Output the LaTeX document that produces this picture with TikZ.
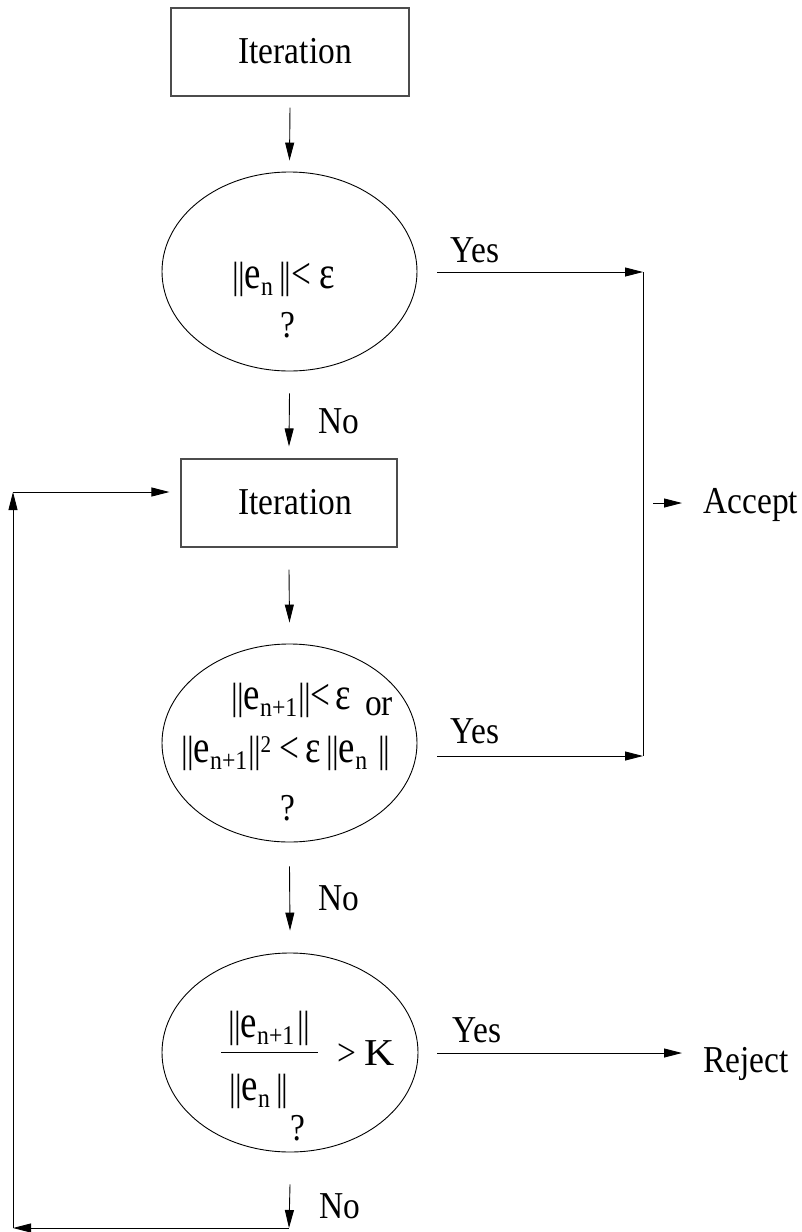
\documentclass[tikz,border=0pt]{standalone}
\usepackage{fontspec}
\setmainfont{Liberation Serif}[FakeStretch=0.88]
\newfontfamily\bigf{Liberation Serif}[FakeStretch=0.8]
\newfontfamily\widef{Liberation Serif}[FakeStretch=1.1]
\usetikzlibrary{arrows.meta,shapes.geometric,calc}
\newcommand{\nb}{|\kern-1pt|}
\newcommand{\E}{{\bigf\fontsize{46}{46}\selectfont e}}
\newcommand{\EPS}{{\bigf\fontsize{46}{46}\selectfont ε}}
\newcommand{\LT}{{\bigf\fontsize{44}{44}\selectfont <}}
\newcommand{\sbs}[1]{\raisebox{-7pt}{\fontsize{27}{27}\selectfont #1}}
\newcommand{\sps}[1]{\raisebox{10pt}{\fontsize{24}{24}\selectfont #1}}
\begin{document}
\begin{tikzpicture}[x=1pt,y=-1pt,
  line width=0.9pt,
  arr/.style={-{Triangle[length=18pt,width=9pt]}},
  boxnode/.style={draw=black!70, line width=1.1pt, rectangle, inner sep=0pt},
  ellnode/.style={draw, ellipse, inner sep=0pt},
  txt/.style={inner sep=0pt, anchor=base west, font=\fontsize{38}{42}\selectfont},
]
\useasboundingbox (0,0) rectangle (801,1232);

% shapes
\node[boxnode, minimum width=238pt, minimum height=88pt] (b1) at (290,52) {};
\node[txt] (t1) at (238,63) {Iteration};
\node[ellnode, minimum width=255pt, minimum height=199pt] (e1) at (289.5,271.5) {};
\node[boxnode, minimum width=216pt, minimum height=88pt] (b2) at (289,503) {};
\node[txt] (t2) at (238,514) {Iteration};
\node[ellnode, minimum width=255pt, minimum height=198pt] (e2) at (289.5,743) {};
\node[ellnode, minimum width=256pt, minimum height=199pt] (e3) at (290,1052.5) {};

% ellipse texts
\node[txt] (q1a) at (232,288) {\nb\E\sbs{n}\kern6pt\nb\LT\kern8pt\EPS};
\node[txt] (q1b) at (280,337) {?};
\node[txt] (q2a) at (231,709) {\nb\E\sbs{n+1}\kern1pt\nb\LT\kern5pt\EPS\kern14pt\raisebox{-6pt}{or}};
\node[txt] (q2b) at (181,762) {\nb\E\sbs{n+1}\kern1pt\nb\sps{2}\kern8pt\LT\kern6pt\EPS\kern6pt\nb\E\sbs{n}\kern11pt\nb};
\node[txt] (q2c) at (280,820) {?};
\node[txt] (q3n) at (228,1037) {\nb\E\sbs{n+1}\kern3pt\nb};
\node[txt] (q3d) at (229,1100) {\nb\E\sbs{n}\kern6pt\nb};
\node[txt] (q3k) at (337,1065) {>\kern8pt{\widef\fontsize{38}{38}\selectfont K}};
\node[txt] (q3q) at (290,1140) {?};
\draw (221,1052) -- (318,1052);

% labels
\node[txt] (y1) at (450,262) {Yes};
\node[txt] (y2) at (450,743) {Yes};
\node[txt] (y3) at (452,1042) {Yes};
\node[txt] (n1) at (318,433) {No};
\node[txt] (n2) at (318,910) {No};
\node[txt] (n3) at (319,1218) {No};
\node[txt] (acc) at (703,513) {Accept};
\node[txt] (rej) at (703,1072) {Reject};

% coordinates
\coordinate (j1) at (643,272);
\coordinate (j2) at (643,756);
\coordinate (ja) at (643,503);
\coordinate (rj) at (682,1053);
\coordinate (l1) at (289,1228);
\coordinate (l2) at (13,1228);
\coordinate (l3) at (13,492);

% connectors
\draw[arr] ([yshift=-11pt]b1.south) -- ([yshift=11pt]e1.north);
\draw[arr] ([yshift=-22pt]e1.south) -- ([yshift=12pt]b2.north);
\draw[arr] ([yshift=-22pt]b2.south) -- ([yshift=21pt]e2.north);
\draw[arr] ([yshift=-24pt]e2.south) -- ([yshift=22pt]e3.north);
\draw[arr] ([yshift=-32pt]e3.south) -- (l1);
\draw[arr] (l1) -- (l2);
\draw[arr] (l2) -- (l3);
\draw[arr] (l3) -- ($(b2.west |- l3)+(-11,0)$);
\draw[arr] ($(e1.east |- j1)+(20,0)$) -- (j1);
\draw[arr] ($(e2.east |- j2)+(20,0)$) -- (j2);
\draw (j1) -- (j2);
\draw[arr] ($(ja)+(10,0)$) -- ($(ja)+(39,0)$);
\draw[arr] ($(e3.east |- rj)+(19,0)$) -- (rj);
\end{tikzpicture}
\end{document}
